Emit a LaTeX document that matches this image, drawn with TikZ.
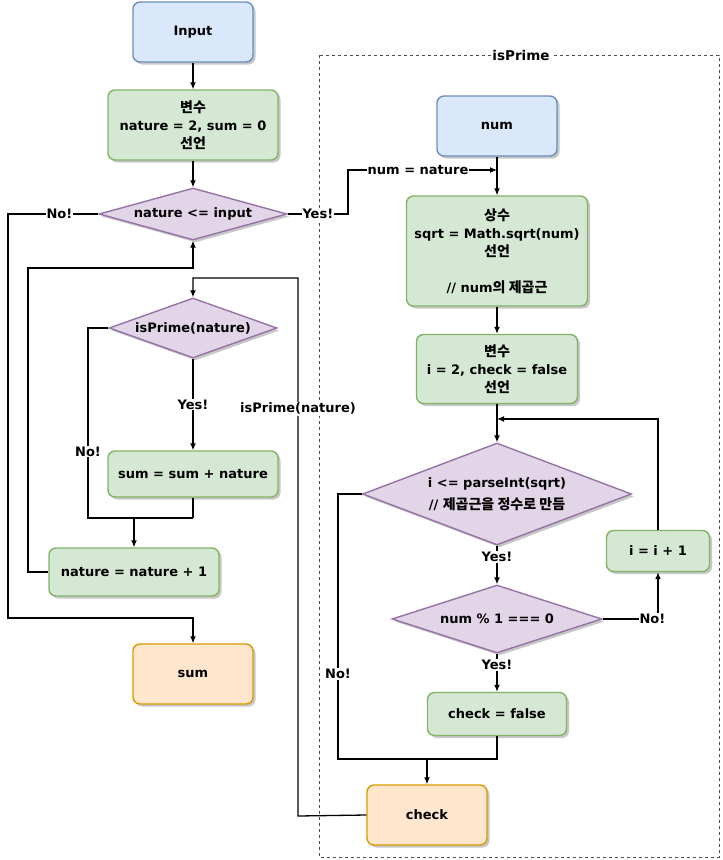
\documentclass[tikz,border=0pt]{standalone}
\usepackage{fontspec}
\setmainfont{DejaVu Sans}
\newfontfamily\kr{Noto Sans CJK KR}
\usetikzlibrary{shapes.geometric,arrows.meta,shadows}
\definecolor{bfill}{HTML}{DAE8FC}\definecolor{bdraw}{HTML}{6C8EBF}
\definecolor{gfill}{HTML}{D5E8D4}\definecolor{gdraw}{HTML}{82B366}
\definecolor{pfill}{HTML}{E1D5E7}\definecolor{pdraw}{HTML}{9673A6}
\definecolor{ofill}{HTML}{FFE6CC}\definecolor{odraw}{HTML}{D79B00}
\newcommand{\ko}[1]{{\kr\fontsize{14}{18}\selectfont #1}}
\tikzset{
  txt/.style={font=\bfseries\fontsize{13}{18}\selectfont, align=center},
  shd/.style={drop shadow={shadow xshift=2.5pt, shadow yshift=-2.5pt, opacity=0.22, fill=black}},
  box/.style={txt, rectangle, rounded corners=7pt, line width=1.4pt, inner sep=0pt, shd},
  bluebox/.style={box, fill=bfill, draw=bdraw},
  greenbox/.style={box, fill=gfill, draw=gdraw},
  orangebox/.style={box, fill=ofill, draw=odraw},
  decision/.style={txt, diamond, fill=pfill, draw=pdraw, line width=1.4pt, inner sep=0pt, shd},
  conn/.style={line width=1.3pt, black},
  arr/.style={conn, -{Latex[length=7pt,width=6pt]}},
  lbl/.style={txt, fill=white, inner sep=1pt},
}
\begin{document}
\begin{tikzpicture}[x=1pt,y=-1pt]
\useasboundingbox (0,0) rectangle (723,860);
% container
\draw[dashed, line width=0.7pt, black!70] (319,55) rectangle (719,857);
\node[lbl, font=\bfseries\fontsize{13.5}{16}\selectfont] (title) at (521,55) {isPrime};

% left flow
\node[bluebox, minimum width=120pt, minimum height=60pt] (input) at (193,32) {Input};
\node[greenbox, minimum width=170pt, minimum height=70pt] (var1) at (193,125) {\ko{변수}\\nature = 2, sum = 0\\\ko{선언}};
\node[decision, shape aspect=3.6, minimum width=188pt, minimum height=52pt] (d1) at (193,214) {nature <= input};
\node[decision, shape aspect=2.8, minimum width=168pt, minimum height=60pt] (d2) at (193,328) {isPrime(nature)};
\node[greenbox, minimum width=170pt, minimum height=46pt] (sumbox) at (193,474) {sum = sum + nature};
\node[greenbox, minimum width=170pt, minimum height=48pt] (inc) at (134,572) {nature = nature + 1};
\node[orangebox, minimum width=120pt, minimum height=60pt] (sum) at (193,674) {sum};

% right flow
\node[bluebox, minimum width=120pt, minimum height=60pt] (num) at (497,126) {num};
\node[greenbox, minimum width=181pt, minimum height=110pt] (sqrt) at (497,251) {\ko{상수}\\sqrt = Math.sqrt(num)\\\ko{선언}\\[18pt]// num\ko{의 제곱근}};
\node[greenbox, minimum width=161pt, minimum height=69pt] (var2) at (497,369) {\ko{변수}\\i = 2, check = false\\\ko{선언}};
\node[decision, shape aspect=2.64, minimum width=269pt, minimum height=102pt] (d3) at (497,494) {i <= parseInt(sqrt)\\[4pt]// \ko{제곱근을 정수로 만듬}};
\node[decision, shape aspect=3.1, minimum width=210pt, minimum height=68pt] (d4) at (497,619) {num \% 1 === 0};
\node[greenbox, minimum width=103pt, minimum height=41pt] (inc2) at (658,551) {i = i + 1};
\node[greenbox, minimum width=139pt, minimum height=43pt] (chkf) at (497,714) {check = false};
\node[orangebox, minimum width=120pt, minimum height=60pt] (check) at (427,815) {check};

% corner coordinates
\coordinate (c1) at (8,214);
\coordinate (c2) at (8,618);
\coordinate (c3) at (348,214);
\coordinate (c4) at (348,170);
\coordinate (c5) at (497,170);
\coordinate (c6) at (28,572);
\coordinate (c7) at (28,268);
\coordinate (c8) at (193,268);
\coordinate (c9) at (298,816);
\coordinate (c10) at (298,278);
\coordinate (c11) at (193,278);
\coordinate (c12) at (88,328);
\coordinate (c13) at (88,518);
\coordinate (c14) at (193,518);
\coordinate (m1) at (134,518);
\coordinate (c15) at (658,419);
\coordinate (c16) at (497,419);
\coordinate (c17) at (658,619);
\coordinate (c18) at (338,494);
\coordinate (c19) at (338,759);
\coordinate (c20) at (497,759);
\coordinate (m2) at (427,759);

% left connectors
\draw[arr] (input) -- (var1);
\draw[arr] (var1) -- (d1);
\draw[arr] (d1.west) -- node[lbl, pos=0.43] {No!} (c1) -- (c2) -| (sum.north);
\draw[arr] (d1.east) -- node[lbl, pos=0.5] {Yes!} (c3) -- (c4) -- node[lbl, pos=0.47] {num = nature} (c5);
\draw[arr] (inc.west) -- (c6) -- (c7) -- (c8) -- (d1.south);
\draw[arr] (check.west) -- (c9) -- node[lbl, pos=0.757] {isPrime(nature)} (c10) -- (c11) -- (d2.north);
\draw[conn] (d2.west) -- (c12) -- node[lbl, pos=0.65] {No!} (c13) -- (c14);
\draw[conn] (sumbox.south) -- (c14);
\draw[arr] (m1) -- (inc.north);
\draw[arr] (d2.south) -- node[lbl, pos=0.5] {Yes!} (sumbox.north);

% right connectors
\draw[arr] (num) -- (sqrt);
\draw[arr] (sqrt) -- (var2);
\draw[arr] (var2) -- (d3);
\draw[arr] (inc2.north) -- (c15) -- (c16);
\draw[arr] (d3.south) -- node[lbl, pos=0.3] {Yes!} (d4.north);
\draw[arr] (d4.east) -- node[lbl, pos=0.9] {No!} (c17) -- (inc2.south);
\draw[arr] (d4.south) -- node[lbl, pos=0.3] {Yes!} (chkf.north);
\draw[conn] (d3.west) -- (c18) -- node[lbl, pos=0.68] {No!} (c19) -- (m2);
\draw[conn] (chkf.south) -- (c20) -- (m2);
\draw[arr] (m2) -- (check.north);
\end{tikzpicture}
\end{document}
